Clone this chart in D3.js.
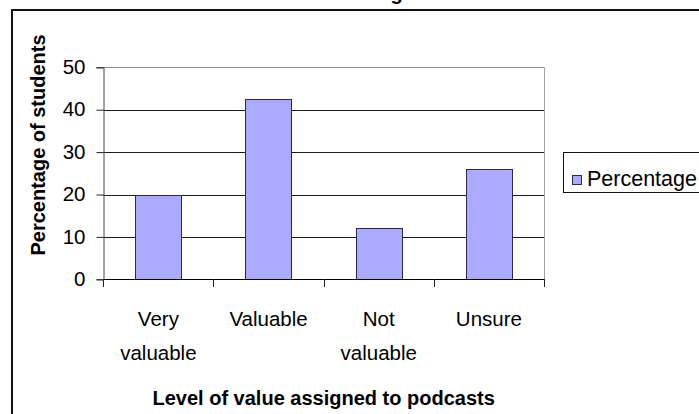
<!DOCTYPE html>
<html>
<head>
<meta charset="utf-8">
<script src="https://cdn.jsdelivr.net/npm/d3@7/dist/d3.min.js"></script>
<style>
  html, body { margin: 0; padding: 0; background: #fff; }
  svg { display: block; }
  text { font-family: "Liberation Sans", Arial, sans-serif; fill: #000; }
</style>
</head>
<body>
<svg id="chart" width="699" height="414"></svg>
<script>
// ---- data ----
const categories = ["Very valuable", "Valuable", "Not valuable", "Unsure"];
const categoryLines = [["Very", "valuable"], ["Valuable"], ["Not", "valuable"], ["Unsure"]];
const percentages = [20, 42.5, 12, 26];
const yTicks = [0, 10, 20, 30, 40, 50];
const seriesName = "Percentage";
const chartTitle = "Percentage";
const xTitle = "Level of value assigned to podcasts";
const yTitle = "Percentage of students";

// ---- layout ----
const svg = d3.select("#chart");
const plot = { left: 103.3, right: 544, top: 67.3, bottom: 279.3 };

// outer chart border (extends beyond the visible window)
svg.append("rect")
  .attr("x", 12).attr("y", 10)
  .attr("width", 800).attr("height", 500)
  .attr("fill", "none").attr("stroke", "#111").attr("stroke-width", 2);

// title (mostly clipped above the view, as in the reference)
svg.append("text")
  .attr("x", 360).attr("y", 0)
  .attr("text-anchor", "middle")
  .attr("font-size", 20).attr("font-weight", "bold")
  .text(chartTitle);

const x = d3.scaleBand()
  .domain(categories)
  .range([plot.left, plot.right])
  .paddingInner(0.58)
  .paddingOuter(0.29);

const xCat = d3.scaleBand()
  .domain(categories)
  .range([plot.left, plot.right])
  .padding(0);

const y = d3.scaleLinear()
  .domain([0, 50])
  .range([plot.bottom, plot.top]);

// gridlines
svg.append("g")
  .selectAll("line")
  .data(yTicks.filter(d => d > 0))
  .join("line")
  .attr("x1", plot.left).attr("x2", plot.right)
  .attr("y1", d => Math.round(y(d)) + 0.5).attr("y2", d => Math.round(y(d)) + 0.5)
  .attr("stroke", d => d === 50 ? "#8c8c8c" : "#1a1a1a")
  .attr("stroke-width", 1);

// right border of plot area
svg.append("line")
  .attr("x1", plot.right + 0.5).attr("x2", plot.right + 0.5)
  .attr("y1", plot.top).attr("y2", plot.bottom)
  .attr("stroke", "#a0a0a0");

// bars
svg.append("g")
  .selectAll("rect")
  .data(percentages)
  .join("rect")
  .attr("x", (d, i) => Math.round(x(categories[i])) + 0.5)
  .attr("y", d => Math.round(y(d)) + 0.5)
  .attr("width", Math.round(x.bandwidth()))
  .attr("height", d => Math.round(y(0)) - Math.round(y(d)))
  .attr("fill", "#aaaaff")
  .attr("stroke", "#2a2a50")
  .attr("stroke-width", 1);

// y axis
const yAxis = d3.axisLeft(y)
  .tickValues(yTicks)
  .tickSize(7)
  .tickPadding(11)
  .tickFormat(d3.format("d"));
const gy = svg.append("g")
  .attr("transform", `translate(${Math.round(plot.left) + 0.5},0)`)
  .call(yAxis);
gy.select(".domain").attr("stroke", "#444");
gy.selectAll(".tick line").attr("stroke", "#222");
gy.selectAll(".tick text")
  .attr("font-size", 20.5)
  .attr("font-family", "Liberation Sans, Arial, sans-serif")
  .attr("fill", "#000")
  .attr("dy", "0.3em");

// x axis (ticks at category boundaries)
const boundaries = categories.map(c => xCat(c)).concat([plot.right]);
const gx = svg.append("g");
gx.append("line")
  .attr("x1", plot.left).attr("x2", plot.right + 1)
  .attr("y1", Math.round(plot.bottom) + 0.5).attr("y2", Math.round(plot.bottom) + 0.5)
  .attr("stroke", "#000");
gx.selectAll("line.tk")
  .data(boundaries)
  .join("line")
  .attr("class", "tk")
  .attr("x1", d => Math.round(d) + 0.5).attr("x2", d => Math.round(d) + 0.5)
  .attr("y1", Math.round(plot.bottom)).attr("y2", Math.round(plot.bottom) + 8)
  .attr("stroke", "#222");

// category labels
const labels = gx.selectAll("text.cat")
  .data(categories)
  .join("text")
  .attr("class", "cat")
  .attr("text-anchor", "middle")
  .attr("font-size", 20.5)
  .attr("x", d => xCat(d) + xCat.bandwidth() / 2)
  .attr("y", 326);
labels.each(function(d, i) {
  const t = d3.select(this);
  categoryLines[i].forEach((ln, j) => {
    t.append("tspan")
      .attr("x", xCat(d) + xCat.bandwidth() / 2)
      .attr("y", 326 + j * 33.5)
      .text(ln);
  });
});

// axis titles
svg.append("text")
  .attr("x", (plot.left + plot.right) / 2)
  .attr("y", 405)
  .attr("text-anchor", "middle")
  .attr("font-size", 20).attr("font-weight", "bold")
  .text(xTitle);

svg.append("text")
  .attr("transform", "translate(45,145) rotate(-90)")
  .attr("text-anchor", "middle")
  .attr("font-size", 20).attr("font-weight", "bold")
  .text(yTitle);

// legend
const lg = svg.append("g");
lg.append("rect")
  .attr("x", 563.5).attr("y", 152.5)
  .attr("width", 200).attr("height", 40)
  .attr("fill", "#fff").attr("stroke", "#111");
lg.append("rect")
  .attr("x", 572.5).attr("y", 175.5)
  .attr("width", 9).attr("height", 9)
  .attr("fill", "#aaaaff").attr("stroke", "#2a2a50");
lg.append("text")
  .attr("x", 587).attr("y", 186)
  .attr("font-size", 21.5)
  .text(seriesName);
</script>
</body>
</html>
